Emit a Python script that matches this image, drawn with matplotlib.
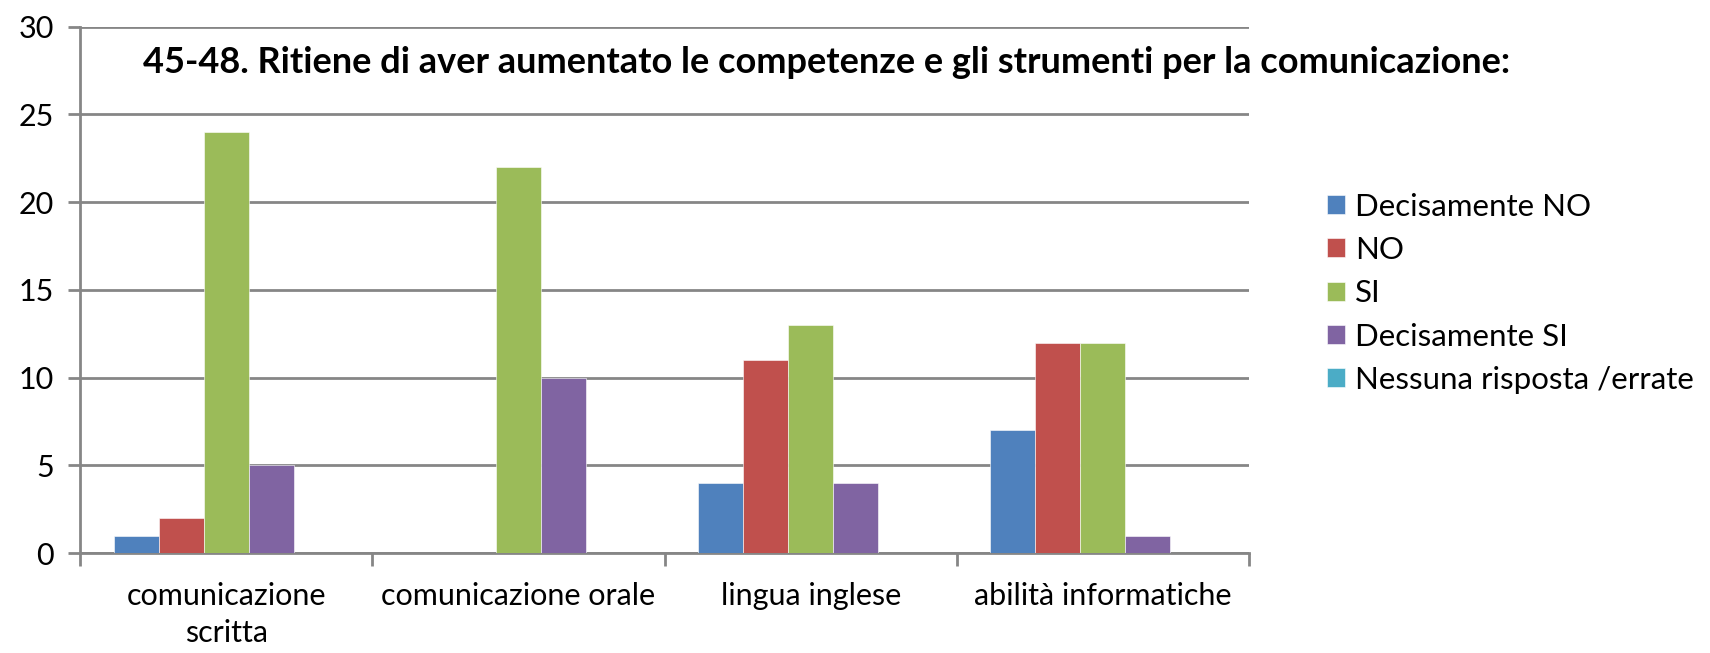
import numpy as np
import matplotlib.pyplot as plt

plt.rcParams['font.family'] = ['Lato', 'DejaVu Sans']

## data
categories = ['comunicazione\nscritta', 'comunicazione orale', 'lingua inglese', 'abilità informatiche']
series_names = ['Decisamente NO', 'NO', 'SI', 'Decisamente SI', 'Nessuna risposta /errate']
decisamente_no = [1, 0, 4, 7]
no = [2, 0, 11, 12]
si = [24, 22, 13, 12]
decisamente_si = [5, 10, 4, 1]
nessuna = [0, 0, 0, 0]
colors = ['#4F81BD', '#C0504D', '#9BBB59', '#8064A2', '#4BACC6']
title = '45-48. Ritiene di aver aumentato le competenze e gli strumenti per la comunicazione:'

values = [decisamente_no, no, si, decisamente_si, nessuna]
grid_col = '#868686'

fig = plt.figure(figsize=(17.1, 6.53), dpi=100)
ax = fig.add_axes([0.0468, 0.153, 0.6836, 0.806])

x = np.arange(len(categories))
bw = 1 / 6.5  # excel gap width 150%
for i, (name, vals, c) in enumerate(zip(series_names, values, colors)):
    ax.bar(x + (i - 2) * bw, vals, width=bw, color=c, label=name,
           edgecolor='white', linewidth=0.4, zorder=3)

ax.set_xlim(-0.5, len(categories) - 0.5)
ax.set_ylim(0, 30)
ax.set_yticks(range(0, 31, 5))
ax.yaxis.grid(True, color=grid_col, linewidth=2, zorder=0)
ax.set_xticks(x)
ax.set_xticklabels(categories, fontsize=22, linespacing=1.4)
ax.set_xticks(np.arange(-0.5, len(categories)), minor=True)
ax.tick_params(axis='x', which='major', length=0, pad=21)
ax.tick_params(axis='x', which='minor', length=9, width=2, color=grid_col)
ax.tick_params(axis='y', length=9, width=2, color=grid_col, labelsize=22, pad=10)

for s in ['top', 'right']:
    ax.spines[s].set_visible(False)
for s in ['left', 'bottom']:
    ax.spines[s].set_color(grid_col)
    ax.spines[s].set_linewidth(2)

fig.text(0.4836, 0.905, title, fontsize=26, fontweight='bold', ha='center', va='center')

fig.legend(loc='center left', bbox_to_anchor=(0.776, 0.551), frameon=False, fontsize=22.5,
           handlelength=0.57, handleheight=0.57, handletextpad=0.32, labelspacing=0.49,
           borderaxespad=0, borderpad=0)

fig.savefig('out.png', dpi=100)
